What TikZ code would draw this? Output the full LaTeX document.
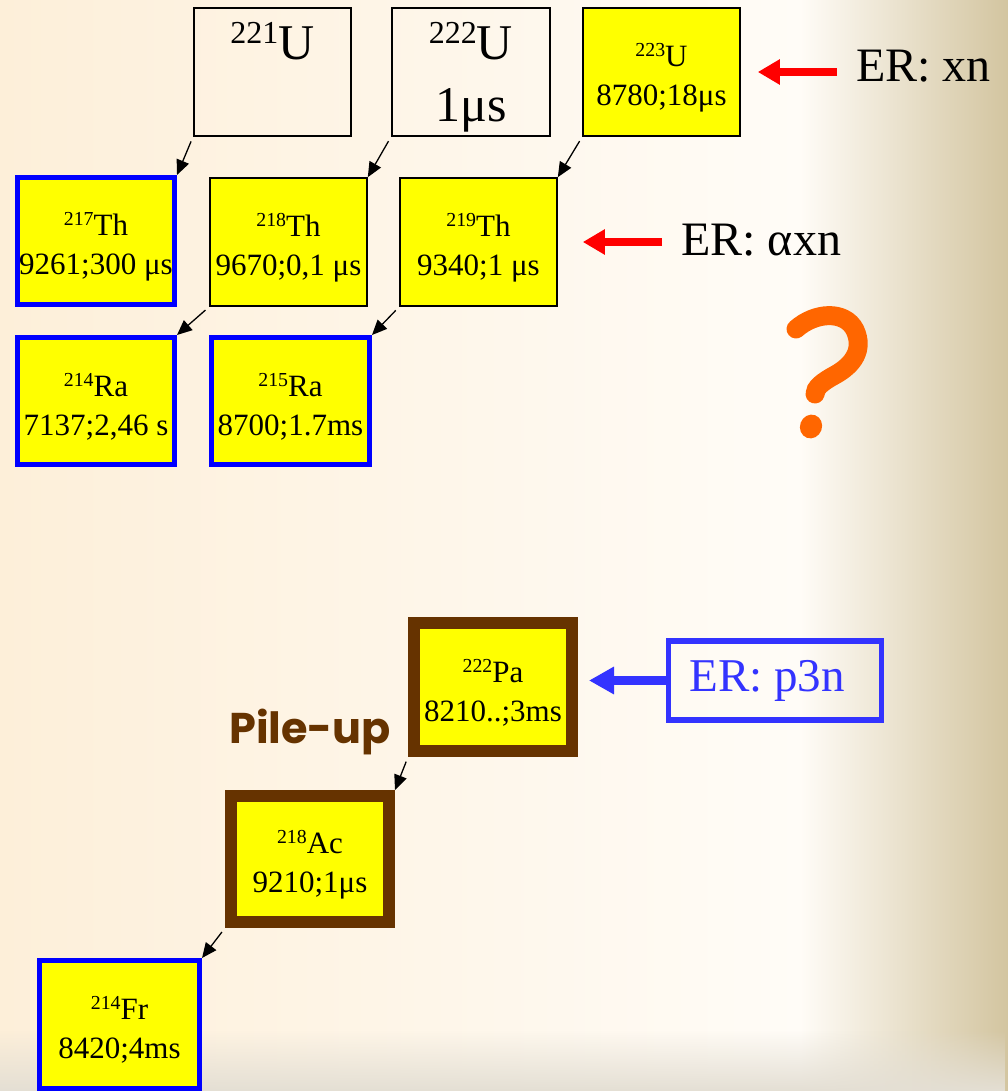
\documentclass[tikz,border=0pt]{standalone}
\usepackage{fontspec}
\setmainfont{Liberation Serif}
\newfontfamily\pilefont{Poppins}
\usetikzlibrary{arrows.meta,fadings}
\definecolor{nucyellow}{HTML}{FFFF00}
\definecolor{nucblue}{HTML}{0000FF}
\definecolor{erblue}{HTML}{3333FF}
\definecolor{pilebrown}{HTML}{663300}
\definecolor{qorange}{HTML}{FF6600}
\definecolor{erred}{HTML}{FF0000}
\definecolor{bgpeach}{HTML}{FDEFD9}
\definecolor{bgcream}{HTML}{FFFCF7}
\definecolor{bgtan}{HTML}{D3C5A0}
\definecolor{bggrey}{HTML}{E4DFD4}
\newcommand{\iso}[1]{\raisebox{0.32em}{\scalebox{0.64}{#1}}}
\newcommand{\nuc}[3]{\rule{0pt}{34pt}\iso{#1}#2\\#3}
\begin{document}
\begin{tikzpicture}[x=1pt,y=-1pt,
 nucbox/.style={rectangle, draw=black, line width=1.6pt, fill=nucyellow, align=center, inner sep=0pt,
   font=\fontsize{31}{39}\selectfont, minimum width=157pt, minimum height=128pt},
 emptybox/.style={nucbox, fill=none},
 bigtext/.style={inner sep=0pt, font=\fontsize{50}{60}\selectfont},
 bluebox/.style={nucbox, draw=nucblue, line width=5pt, minimum width=157pt, minimum height=127pt},
 brownbox/.style={nucbox, draw=pilebrown, line width=12pt, minimum width=158pt, minimum height=127pt},
 decay/.style={-{Triangle[length=15pt,width=13pt]}, line width=1.3pt, shorten <=5pt},
 erarrow/.style={-{Triangle[length=22pt,width=24pt]}, line width=8pt, draw=erred},
 ertext/.style={inner sep=0pt, anchor=base west, font=\fontsize{48}{56}\selectfont},
]
\useasboundingbox (0,0) rectangle (1008,1091);
% background
\shade[left color=bgpeach, right color=bgcream] (0,0) rectangle (800,1091);
\shade[left color=bgcream, right color=bgtan] (800,0) rectangle (1008,1091);
\fill[bggrey, path fading=north] (0,1030) rectangle (1008,1091);

% uranium row
\node[emptybox, minimum width=157.4pt] (U221) at (272.5,72) {};
\node[bigtext, anchor=base] (U221t) at (272.5,60) {\iso{221}U};
\node[emptybox, minimum width=158.4pt] (U222) at (471,72) {};
\node[bigtext, anchor=base] (U222t) at (471,60) {\iso{222}U};
\node[bigtext, anchor=base] (U222l) at (471,122) {1μs};
\node[nucbox] (U223) at (661.5,72) {\nuc{223}{U}{8780;18μs}};

% thorium row
\node[bluebox] (Th217) at (96,241) {\nuc{217}{Th}{9261;300 μs}};
\node[nucbox] (Th218) at (288.5,242) {\nuc{218}{Th}{9670;0,1 μs}};
\node[nucbox] (Th219) at (478.5,242) {\nuc{219}{Th}{9340;1 μs}};

% radium row
\node[bluebox] (Ra214) at (96,401) {\nuc{214}{Ra}{7137;2,46 s}};
\node[bluebox, minimum width=158pt] (Ra215) at (290.5,401) {\nuc{215}{Ra}{8700;1.7ms}};

% lower chain
\node[brownbox, minimum height=128pt] (Pa222) at (493,687) {\nuc{222}{Pa}{8210..;3ms}};
\node[brownbox, minimum height=126pt] (Ac218) at (310,859) {\nuc{218}{Ac}{9210;1μs}};
\node[bluebox, minimum width=160pt, minimum height=128pt] (Fr214) at (119.5,1024.5) {\nuc{214}{Fr}{8420;4ms}};

% decay arrows
\draw[decay] (U221.south west) -- (Th217.north east);
\draw[decay] (U222.south west) -- (Th218.north east);
\draw[decay] (U223.south west) -- (Th219.north east);
\draw[decay] (Th218.south west) -- (Ra214.north east);
\draw[decay] (Th219.south west) -- (Ra215.north east);
\draw[decay] (Pa222.south west) -- (Ac218.north east);
\draw[decay] (Ac218.south west) -- (Fr214.north east);

% ER labels
\node[ertext] (ERxn) at (856,82) {ER: xn};
\node[ertext] (ERaxn) at (681,255) {ER: αxn};
\draw[erarrow, shorten <=19pt, shorten >=17pt] (ERxn.west |- U223.east) -- (U223.east);
\draw[erarrow, shorten <=19pt, shorten >=25pt] (ERaxn.west |- Th219.east) -- (Th219.east);

\node[draw=erblue, line width=5.5pt, text=erblue, inner sep=0pt, minimum width=213pt, minimum height=79pt,
  font=\fontsize{47}{54}\selectfont] (p3n) at (775,680.5) {ER: p3n\hspace*{16pt}};
\draw[-{Triangle[length=25pt,width=26pt]}, line width=9pt, erblue, shorten >=11pt] (p3n.west) -- (p3n.west -| Pa222.east);

% pile-up
\node[font=\pilefont\fontsize{43}{50}\selectfont\bfseries, text=pilebrown, anchor=base west, inner sep=0pt] (pile) at (229,743) {Pile-up};

% question mark (drawn glyph)
\draw[qorange, line width=19pt, line cap=round]
  (796,329) .. controls (815,312) and (845,310) .. (855,330)
  .. controls (864,350) and (853,365) .. (835,375)
  .. controls (822,382) and (815,388) .. (815,394);
\fill[qorange, rotate around={-20:(811,426.5)}] (811,426.5) ellipse [x radius=11, y radius=12];
\end{tikzpicture}
\end{document}
